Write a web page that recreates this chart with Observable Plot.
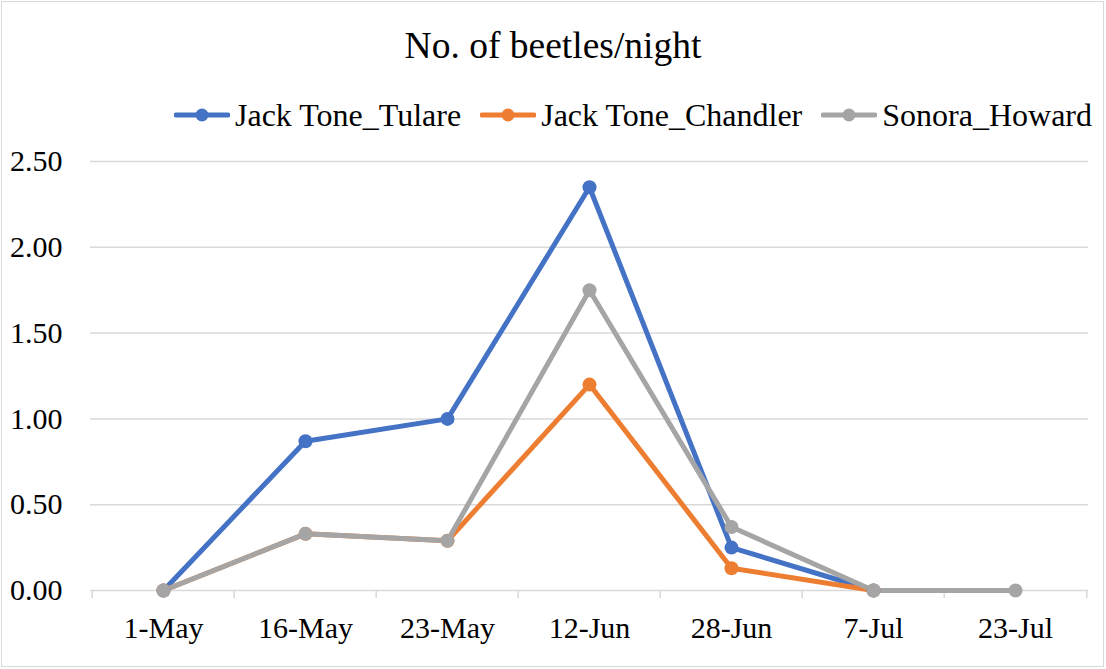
<!DOCTYPE html>
<html>
<head>
<meta charset="utf-8">
<script src="https://cdn.jsdelivr.net/npm/d3@7"></script>
<script src="https://cdn.jsdelivr.net/npm/@observablehq/plot@0.6"></script>
<style>
  html, body { margin: 0; padding: 0; background: #fff; }
  #wrap { position: relative; width: 1106px; height: 669px; overflow: hidden; font-family: "Liberation Serif", "Times New Roman", serif; }
  #frame { position: absolute; left: 1px; top: 1px; width: 1101px; height: 664px; border: 1.5px solid #d9d9d9; pointer-events: none; }
  #title { position: absolute; left: 0; top: 27px; width: 1106px; text-align: center; font-size: 37.5px; line-height: 1; color: #000; }
  #legend { position: absolute; left: 174px; top: 99px; width: 1000px; display: flex; align-items: center; font-size: 32px; line-height: 1; color: #000; white-space: nowrap; }
  .item { display: flex; align-items: center; margin-right: 19px; flex-shrink: 0; }
  .item svg { margin-right: 5px; flex-shrink: 0; }
  #chart { position: absolute; left: 0; top: 140px; }
</style>
</head>
<body>
<div id="wrap">
  <div id="title"></div>
  <div id="legend"></div>
  <div id="chart"></div>
  <div id="frame"></div>
</div>
<script>
const title = "No. of beetles/night";
const dates = ["1-May", "16-May", "23-May", "12-Jun", "28-Jun", "7-Jul", "23-Jul"];
const seriesNames = ["Jack Tone_Tulare", "Jack Tone_Chandler", "Sonora_Howard"];
const seriesColors = ["#4472C4", "#ED7D31", "#A5A5A5"];
const tulare   = [0, 0.87, 1.00, 2.35, 0.25, 0, null];
const chandler = [0, 0.33, 0.29, 1.20, 0.13, 0, null];
const howard   = [0, 0.33, 0.29, 1.75, 0.37, 0, 0];
const yTicks = [0, 0.5, 1.0, 1.5, 2.0, 2.5];

const seriesValues = [tulare, chandler, howard];
const data = [];
seriesNames.forEach((name, s) => {
  seriesValues[s].forEach((v, i) => {
    if (v != null) data.push({series: name, date: dates[i], value: v});
  });
});

document.getElementById("title").textContent = title;

// legend
const legend = document.getElementById("legend");
seriesNames.forEach((name, s) => {
  const item = document.createElement("div");
  item.className = "item";
  item.innerHTML = `<svg width="56" height="20"><line x1="2" y1="10" x2="54" y2="10" stroke="${seriesColors[s]}" stroke-width="5" stroke-linecap="round"/><circle cx="28" cy="10" r="6.5" fill="${seriesColors[s]}"/></svg><span>${name}</span>`;
  legend.appendChild(item);
});

const W = 1106, H = 529, mL = 90, mR = 18, mT = 21, mB = 79;
const step = (W - mL - mR) / dates.length;

const plot = Plot.plot({
  width: W,
  height: H,
  marginLeft: mL,
  marginRight: mR,
  marginTop: mT,
  marginBottom: mB,
  style: {fontFamily: "'Liberation Serif', 'Times New Roman', serif", fontSize: "30px", color: "#000", background: "transparent"},
  x: {type: "point", domain: dates, padding: 0.5, label: null},
  y: {domain: [0, 2.5], label: null},
  color: {domain: seriesNames, range: seriesColors},
  marks: [
    Plot.ruleY(yTicks, {stroke: "#d9d9d9", strokeWidth: 1.5}),
    Plot.ruleX(dates, {x: d => d, dx: -step / 2, y1: 0, y2: 0, insetBottom: -8, stroke: "#d9d9d9", strokeWidth: 1.5}),
    Plot.ruleX(dates.slice(-1), {x: d => d, dx: step / 2, y1: 0, y2: 0, insetBottom: -8, stroke: "#d9d9d9", strokeWidth: 1.5}),
    Plot.axisY({ticks: yTicks, tickFormat: d3.format(".2f"), tickSize: 0, tickPadding: 28, fontSize: 30}),
    Plot.axisX({tickSize: 0, tickPadding: 26, fontSize: 30}),
    Plot.line(data, {x: "date", y: "value", z: "series", stroke: "series", strokeWidth: 5, strokeLinejoin: "round", strokeLinecap: "round"}),
    Plot.dot(data, {x: "date", y: "value", fill: "series", r: 7, stroke: null})
  ]
});
document.getElementById("chart").appendChild(plot);
</script>
</body>
</html>
